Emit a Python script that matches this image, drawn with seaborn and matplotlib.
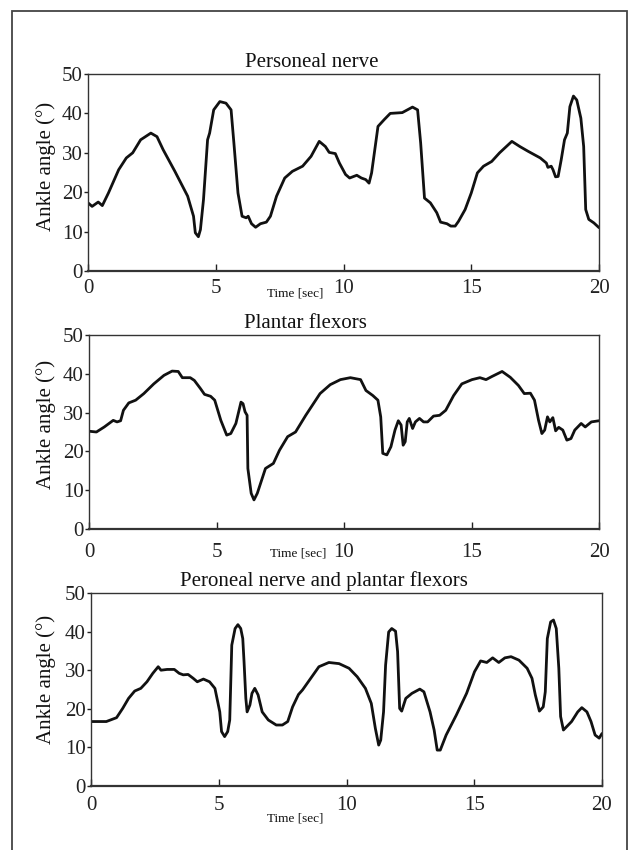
import matplotlib
matplotlib.use("Agg")
import matplotlib.pyplot as plt
import seaborn as sns
import pandas as pd
from matplotlib.patches import Rectangle

# ---------------- data ----------------
titles = ["Personeal nerve", "Plantar flexors", "Peroneal nerve and plantar flexors"]
x_ticks = [0, 5, 10, 15, 20]
y_ticks = [0, 10, 20, 30, 40, 50]

t1 = [0.0, 0.16, 0.4, 0.56, 0.8, 1.2, 1.5, 1.75, 2.06, 2.46, 2.7, 2.94, 3.4, 3.9, 4.13,
      4.2, 4.32, 4.4, 4.52, 4.68, 4.76, 4.92, 5.16, 5.4, 5.6, 5.71, 5.87, 6.03, 6.19, 6.27,
      6.4, 6.56, 6.75, 6.98, 7.14, 7.38, 7.7, 8.0, 8.4, 8.73, 9.05, 9.29, 9.44, 9.68, 9.84,
      10.08, 10.24, 10.52, 10.7, 10.87, 11.0, 11.1, 11.35, 11.59, 11.83, 12.3, 12.7, 12.9,
      13.02, 13.17, 13.4, 13.65, 13.8, 14.05, 14.2, 14.37, 14.5, 14.76, 15.0, 15.24, 15.48,
      15.8, 16.11, 16.59, 16.9, 17.22, 17.7, 17.94, 18.0, 18.13, 18.2, 18.3, 18.4, 18.52,
      18.65, 18.76, 18.86, 19.0, 19.13, 19.29, 19.4, 19.48, 19.6, 19.8, 20.0]
a1 = [17.3, 16.4, 17.5, 16.6, 19.8, 25.7, 28.7, 30.0, 33.3, 35.0, 34.1, 30.8, 25.3, 19.0, 13.9,
      9.7, 8.7, 10.5, 18.1, 33.3, 35.0, 40.9, 43.0, 42.6, 40.9, 32.5, 19.8, 13.9, 13.5, 13.9,
      12.0, 11.1, 12.0, 12.4, 13.9, 19.0, 23.6, 25.3, 26.6, 29.1, 32.9, 31.6, 30.1, 29.8, 27.4,
      24.5, 23.6, 24.3, 23.6, 23.2, 22.3, 24.9, 36.7, 38.4, 40.0, 40.2, 41.6, 40.9,
      32.5, 18.5, 17.3, 14.8, 12.4, 12.0, 11.4, 11.4, 12.6, 15.6, 19.8, 24.9, 26.6,
      27.8, 30.0, 32.9, 31.6, 30.4, 28.7, 27.4, 26.3, 26.6, 25.7, 23.9, 24.0, 28.2,
      33.3, 35.0, 41.7, 44.4, 43.4, 38.8, 31.6, 15.6, 13.1, 12.2, 11.0]

t2 = [0.0, 0.29, 0.6, 0.95, 1.1, 1.24, 1.35, 1.56, 1.83, 2.15, 2.54, 2.94, 3.26, 3.5, 3.66,
      3.97, 4.13, 4.37, 4.53, 4.77, 4.93, 5.17, 5.4, 5.56, 5.76, 5.96, 6.04, 6.12, 6.2, 6.23,
      6.36, 6.47, 6.6, 6.92, 7.23, 7.47, 7.79, 8.1, 8.5, 9.06, 9.46, 9.86, 10.25, 10.65, 10.86,
      11.13, 11.33, 11.44, 11.52, 11.68, 11.84, 12.0, 12.13, 12.24, 12.32, 12.4, 12.48, 12.56,
      12.69, 12.8, 12.96, 13.12, 13.28, 13.51, 13.75, 13.99, 14.3, 14.62, 15.02, 15.33, 15.57,
      15.8, 16.2, 16.52, 16.84, 17.07, 17.31, 17.47, 17.63, 17.76, 17.87, 17.98, 18.07, 18.19,
      18.3, 18.42, 18.58, 18.74, 18.9, 19.05, 19.3, 19.46, 19.7, 20.0]
a2 = [25.2, 25.0, 26.3, 28.0, 27.6, 27.9, 30.6, 32.5, 33.2, 34.9, 37.4, 39.6, 40.7, 40.6, 39.0,
      39.0, 38.3, 36.2, 34.7, 34.2, 33.2, 28.0, 24.2, 24.6, 27.2, 32.7, 32.3, 30.2, 29.3, 15.6,
      9.2, 7.5, 9.2, 15.6, 16.9, 20.3, 23.8, 25.0, 29.3, 34.9, 37.2, 38.5, 39.0, 38.5, 35.7,
      34.4, 33.2, 28.9, 19.5, 19.1, 21.2, 25.5, 27.9, 26.8, 21.6, 22.5, 27.6, 28.5,
      25.9, 27.6, 28.5, 27.6, 27.6, 29.1, 29.3, 30.6, 34.4, 37.4, 38.5, 39.0, 38.5,
      39.3, 40.6, 39.1, 37.0, 34.9, 35.0, 33.2, 28.0, 24.6, 25.5, 28.9, 27.6, 28.7,
      25.3, 26.2, 25.5, 22.9, 23.3, 25.5, 27.2, 26.3, 27.6, 27.9]

t3 = [0.0, 0.6, 1.0, 1.24, 1.47, 1.71, 1.95, 2.19, 2.42, 2.63, 2.74, 2.98, 3.26, 3.45, 3.61,
      3.8, 4.0, 4.16, 4.4, 4.64, 4.85, 4.96, 5.04, 5.11, 5.23, 5.35, 5.43, 5.51, 5.64, 5.75,
      5.86, 5.94, 5.99, 6.06, 6.11, 6.22, 6.3, 6.41, 6.54, 6.7, 6.94, 7.25, 7.49, 7.7, 7.89,
      8.12, 8.28, 8.6, 8.92, 9.31, 9.71, 10.1, 10.42, 10.74, 10.97, 11.13, 11.26, 11.34, 11.45,
      11.53, 11.65, 11.77, 11.92, 12.0, 12.08, 12.16, 12.32, 12.56, 12.87, 13.03, 13.27, 13.43,
      13.55, 13.67, 13.9, 14.3, 14.7, 15.01, 15.25, 15.49, 15.72, 15.96, 16.2, 16.44, 16.75,
      17.07, 17.26, 17.39, 17.55, 17.7, 17.78, 17.86, 17.99, 18.1, 18.21, 18.31, 18.38, 18.49,
      18.81, 19.05, 19.21, 19.41, 19.57, 19.73, 19.89, 20.0]
a3 = [16.7, 16.7, 17.7, 20.1, 22.7, 24.6, 25.3, 27.0, 29.2, 30.9, 30.0, 30.2, 30.2, 29.2, 28.8,
      28.9, 27.9, 27.0, 27.7, 27.0, 25.3, 21.8, 19.2, 14.1, 12.8, 14.1, 17.1, 36.5, 40.8, 41.8,
      40.8, 38.2, 32.2, 22.7, 19.2, 21.0, 24.0, 25.3, 23.6, 19.2, 17.1, 15.8, 15.8, 16.7, 20.5,
      23.7, 24.9, 27.9, 30.9, 32.0, 31.7, 30.5, 28.3, 25.3, 21.4, 14.9, 10.6, 11.9, 19.2,
      31.3, 39.9, 40.8, 40.1, 34.8, 20.1, 19.4, 22.7, 24.0, 25.1, 24.4, 19.2, 14.5,
      9.3, 9.3, 13.2, 18.4, 24.0, 29.6, 32.4, 32.0, 33.2, 32.0, 33.2, 33.5, 32.6,
      30.5, 27.9, 23.6, 19.4, 20.5, 24.4, 38.2, 42.5, 43.0, 40.8, 30.5, 18.0, 14.5,
      16.7, 19.2, 20.3, 19.2, 16.7, 13.2, 12.4, 13.6]

series = [(t1, a1), (t2, a2), (t3, a3)]

# ---------------- layout (figure fractions) ----------------
W, H = 636, 850
axes_px = [(88, 74, 599, 271), (89, 335, 599, 529), (91, 593, 602, 786)]
title_x = [0.438, 0.425, 0.456]
time_pos = [(0.405, -0.112), (0.41, -0.124), (0.40, -0.166)]
ylabel_pos = [(-0.062, 0.53), (-0.064, 0.54), (-0.068, 0.55)]
tick_pad = [6, 10, 7]

sns.set_theme(style="white")
plt.rcParams['font.family'] = ['Liberation Serif', 'DejaVu Serif']

fig = plt.figure(figsize=(W / 100, H / 100), dpi=100)
fig.patch.set_facecolor("white")

# outer frame
fig.patches.append(Rectangle((12 / W, -0.02), (627 - 12) / W, 1 - 11 / H + 0.02,
                             transform=fig.transFigure, fill=False,
                             edgecolor="#444444", linewidth=1.3))

for i, ((t, a), (l, tp, r, b)) in enumerate(zip(series, axes_px)):
    ax = fig.add_axes([l / W, 1 - b / H, (r - l) / W, (b - tp) / H])
    df = pd.DataFrame({"Time": t, "Angle": a})
    sns.lineplot(data=df, x="Time", y="Angle", ax=ax, color="#111111",
                 linewidth=2.0, estimator=None, sort=False,
                 solid_joinstyle="round", solid_capstyle="round")
    ax.set_xlim(0, 20)
    ax.set_ylim(0, 50)
    ax.set_xticks(x_ticks)
    ax.set_yticks(y_ticks)
    ax.set_xticklabels([str(v) for v in x_ticks], fontsize=15)
    ax.set_yticklabels([str(v) for v in y_ticks], fontsize=15)
    ax.tick_params(axis="x", direction="in", length=5, width=1.0, pad=tick_pad[i],
                   colors="#222222", bottom=True)
    ax.tick_params(axis="y", direction="out", length=3, width=1.0, pad=1,
                   colors="#222222", left=True)
    for s in ax.spines.values():
        s.set_color("#333333")
        s.set_linewidth(1.0)
    ax.spines["bottom"].set_linewidth(1.6)
    ax.set_xlabel("")
    ax.set_ylabel("Ankle angle (°)", fontsize=15, color="#111111")
    ax.yaxis.set_label_coords(*ylabel_pos[i])
    ax.text(title_x[i], 1.008, titles[i], transform=ax.transAxes, ha="center",
            va="bottom", fontsize=15, color="#111111")
    ax.text(time_pos[i][0], time_pos[i][1], "Time [sec]", transform=ax.transAxes,
            ha="center", va="center", fontsize=9.5, color="#111111")
    ax.set_facecolor("white")

fig.savefig("out.png", dpi=100, facecolor="white")
